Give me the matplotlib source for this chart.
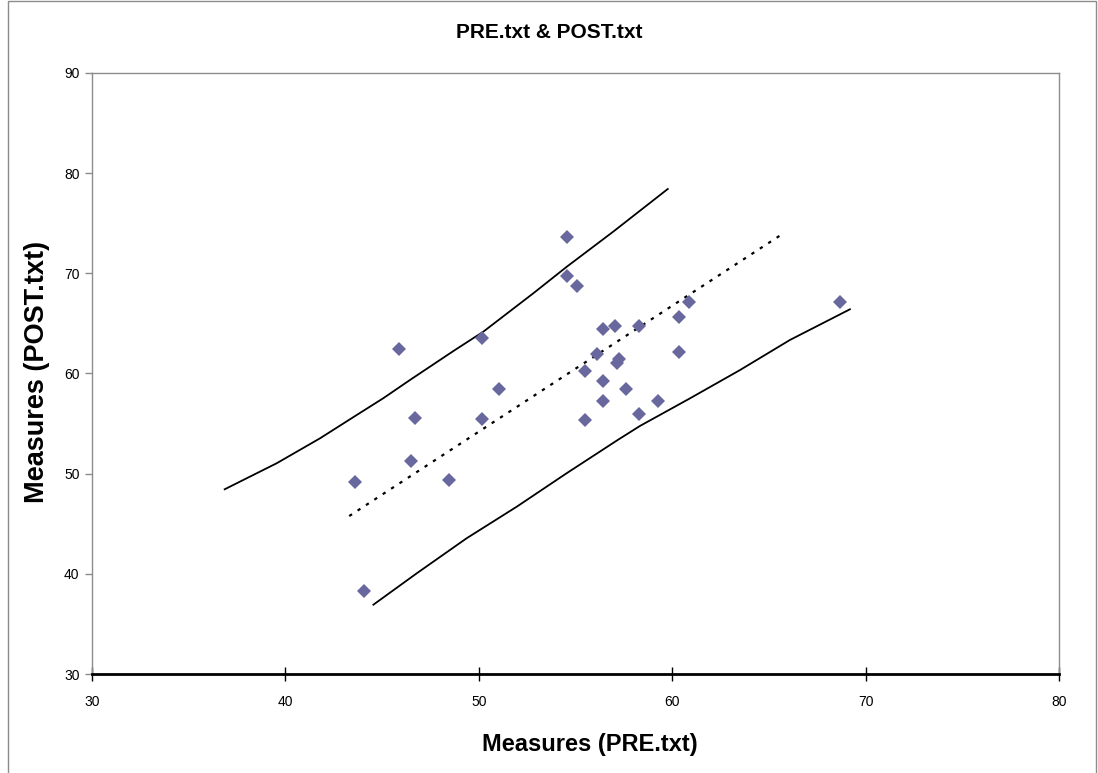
import matplotlib
matplotlib.use("Agg")
import matplotlib.pyplot as plt
from matplotlib.patches import Rectangle

plt.rcParams['font.family'] = ['Liberation Sans', 'DejaVu Sans']

# measures
pre = [45.86, 50.17, 51.05, 46.72, 50.17, 54.58, 54.58, 55.06, 56.40, 57.06,
       58.30, 60.33, 60.88, 56.13, 57.27, 57.13, 60.33, 55.49, 56.40, 57.61,
       56.40, 59.28, 58.30, 55.49, 46.49, 43.61, 48.44, 44.08, 68.68]
post = [62.40, 63.55, 58.50, 55.55, 55.45, 73.60, 69.70, 68.70, 64.40, 64.75,
        64.75, 65.65, 67.15, 61.95, 61.40, 61.00, 62.10, 60.25, 59.25, 58.50,
        57.30, 57.30, 55.95, 55.40, 51.30, 49.15, 49.40, 38.30, 67.15]

# identity (dotted) line end points
ident_x = [43.30, 65.78]
ident_y = [45.77, 74.03]

# upper confidence band
upper_x = [36.86, 39.55, 41.79, 43.69, 45.06, 46.44, 48.77, 50.23, 52.82,
           54.55, 56.95, 59.77]
upper_y = [48.44, 51.04, 53.53, 55.86, 57.53, 59.35, 62.35, 64.17, 68.01,
           70.66, 74.16, 78.42]

# lower confidence band
lower_x = [44.55, 46.79, 49.37, 51.96, 54.54, 57.18, 58.33, 60.92, 63.51,
           66.09, 69.19]
lower_y = [36.92, 40.05, 43.55, 46.70, 50.04, 53.36, 54.76, 57.52, 60.35,
           63.35, 66.41]

fig = plt.figure(figsize=(10.98, 7.73), dpi=100)
ax = fig.add_axes([92 / 1098, 1 - 674 / 773, (1059 - 92) / 1098, (674 - 73) / 773])

# outer chart border (bottom edge falls off the picture)
fig.patches.append(Rectangle((8 / 1098, -0.05), (1096 - 8) / 1098, 1.05 - 1 / 773,
                             transform=fig.transFigure, fill=False,
                             edgecolor='#8c8c8c', linewidth=1))

ax.plot(upper_x, upper_y, color='black', lw=1.3, solid_joinstyle='round')
ax.plot(lower_x, lower_y, color='black', lw=1.3, solid_joinstyle='round')
ax.plot(ident_x, ident_y, color='black', lw=1.6, linestyle=(0, (1.5, 3.0)))
ax.plot(pre, post, linestyle='none', marker='D', markersize=7.5,
        color='#68689f', markeredgewidth=0)

ax.set_xlim(30, 80)
ax.set_ylim(30, 90)
ax.set_xticks(range(30, 81, 10))
ax.set_yticks(range(30, 91, 10))

for side in ['left', 'top', 'right']:
    ax.spines[side].set_color('#8c8c8c')
    ax.spines[side].set_linewidth(1)
ax.spines['bottom'].set_color('black')
ax.spines['bottom'].set_linewidth(2)

ax.tick_params(axis='x', direction='inout', length=10, width=1, color='black',
               labelsize=10, pad=10)
ax.tick_params(axis='y', direction='out', length=5, width=1, color='#8c8c8c',
               labelsize=10, pad=4)

fig.text(549 / 1098, 1 - 32 / 773, 'PRE.txt & POST.txt', fontsize=15,
         fontweight='bold', ha='center', va='center')
fig.text(590 / 1098, 1 - 745 / 773, 'Measures (PRE.txt)', fontsize=17,
         fontweight='bold', ha='center', va='center')
fig.text(37 / 1098, 1 - 372 / 773, 'Measures (POST.txt)', fontsize=19.5,
         fontweight='bold', ha='center', va='center', rotation=90)

fig.savefig('out.png', dpi=100)
